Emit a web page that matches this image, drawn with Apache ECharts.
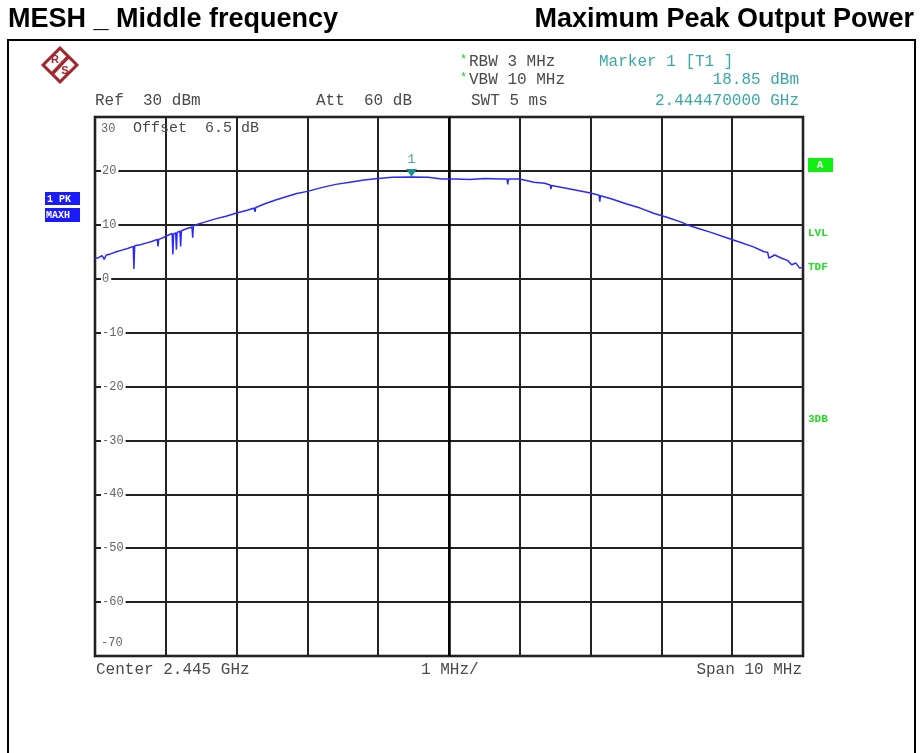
<!DOCTYPE html>
<html>
<head>
<meta charset="utf-8">
<title>MESH _ Middle frequency</title>
<script src="https://cdn.jsdelivr.net/npm/echarts@6.0.0/dist/echarts.min.js"></script>
<style>
  html, body { margin: 0; padding: 0; background: #fff; }
  #chart { width: 920px; height: 753px; }
</style>
</head>
<body>
<div id="chart"></div>
<script>
// trace (MHz, dBm)
const freqMHz = [
  2440.00, 2440.05, 2440.10, 2440.13, 2440.16, 2440.22, 2440.30, 2440.38, 2440.46, 2440.54,
  2440.55, 2440.56, 2440.64, 2440.72, 2440.80, 2440.88, 2440.89, 2440.90, 2440.96, 2441.04,
  2441.09, 2441.10, 2441.11, 2441.14, 2441.15, 2441.16, 2441.20, 2441.21, 2441.22, 2441.30,
  2441.37, 2441.38, 2441.39, 2441.45, 2441.55, 2441.70, 2441.85, 2442.00, 2442.15, 2442.25,
  2442.26, 2442.27, 2442.40, 2442.55, 2442.70, 2442.85, 2443.00, 2443.20, 2443.40, 2443.60,
  2443.80, 2444.00, 2444.20, 2444.47, 2444.70, 2444.90, 2445.10, 2445.30, 2445.50, 2445.75,
  2445.82, 2445.83, 2445.84, 2446.00, 2446.20, 2446.35, 2446.43, 2446.44, 2446.45, 2446.60,
  2446.80, 2447.00, 2447.12, 2447.13, 2447.14, 2447.30, 2447.50, 2447.70, 2447.90, 2448.10,
  2448.30, 2448.38, 2448.50, 2448.70, 2448.90, 2449.10, 2449.30, 2449.45, 2449.50, 2449.52,
  2449.60, 2449.70, 2449.78, 2449.84, 2449.90, 2449.95, 2450.00
];
const levelDbm = [
  3.8, 3.9, 4.3, 3.6, 4.4, 4.6, 5.0, 5.3, 5.6, 6.0,
  1.8, 6.1, 6.3, 6.6, 6.9, 7.3, 6.0, 7.3, 7.6, 8.1,
  8.4, 4.5, 8.3, 8.5, 5.4, 8.6, 8.8, 6.0, 8.9, 9.3,
  9.6, 7.6, 9.8, 10.1, 10.5, 11.1, 11.6, 12.2, 12.7, 13.1,
  12.4, 13.2, 13.9, 14.6, 15.2, 15.8, 16.2, 16.9, 17.5, 17.9,
  18.3, 18.6, 18.8, 18.85, 18.8, 18.5, 18.5, 18.4, 18.6, 18.5,
  18.5, 17.5, 18.5, 18.5, 17.9, 17.7, 17.4, 16.6, 17.3, 16.9,
  16.4, 15.9, 15.5, 14.3, 15.4, 14.8, 13.9, 13.1, 12.1, 11.3,
  10.4, 9.9, 9.4, 8.6, 7.7, 6.8, 5.9, 5.0, 4.9, 3.8,
  4.4, 3.8, 3.4, 2.6, 2.9, 2.0, 2.1
];
const marker1 = [2444.47, 18.85];
const yTicks = [30, 20, 10, 0, -10, -20, -30, -40, -50, -60, -70];

const mono = 'Liberation Mono';
const grey = '#4a4a4a';
const teal = '#3aa8a8';

const chart = echarts.init(document.getElementById('chart'));

function txt(x, y, text, opts) {
  return {
    type: 'text', x: x, y: y, z: 20,
    style: Object.assign({
      text: text, fill: grey, font: '16px "' + mono + '"',
      textVerticalAlign: 'middle'
    }, opts || {})
  };
}

const option = {
  animation: false,
  backgroundColor: '#fff',
  grid: {
    left: 95, right: 117, top: 117, bottom: 97,
    show: true, borderColor: '#000', borderWidth: 2.5, backgroundColor: 'transparent'
  },
  xAxis: {
    type: 'value', min: 2440, max: 2450, interval: 1,
    axisLine: { show: false }, axisTick: { show: false }, axisLabel: { show: false },
    splitLine: { show: true, lineStyle: { color: '#222', width: 2 } }
  },
  yAxis: {
    type: 'value', min: -70, max: 30, interval: 10,
    axisLine: { show: false },
    axisTick: { show: false },
    axisLabel: {
      inside: true, margin: 6, color: '#666', fontFamily: mono, fontSize: 12,
      backgroundColor: '#fff', padding: [0, 2, 0, 1],
      showMinLabel: false, showMaxLabel: false
    },
    splitLine: { show: true, lineStyle: { color: '#222', width: 2 } },
    z: 5
  },
  series: [{
    type: 'line',
    data: freqMHz.map((f, i) => [f, levelDbm[i]]),
    showSymbol: false,
    lineStyle: { color: '#2a2aff', width: 1.5 },
    z: 10,
    markLine: {
      silent: true, symbol: 'none', label: { show: false },
      lineStyle: { color: '#000', width: 2.5, type: 'solid' },
      data: [{ xAxis: 2445 }]
    },
    markPoint: {
      silent: true,
      symbol: 'triangle', symbolRotate: 180, symbolSize: [11, 8], symbolOffset: [0, -4],
      itemStyle: { color: '#1e8f8f' },
      label: {
        show: true, position: 'top', distance: 3, formatter: '1',
        color: teal, fontFamily: mono, fontSize: 13
      },
      data: [{ coord: marker1 }]
    }
  }],
  graphic: [
    // outer frame
    { type: 'rect', z: 1, shape: { x: 8, y: 40, width: 907, height: 740 },
      style: { fill: 'none', stroke: '#000', lineWidth: 2 } },
    // titles
    { type: 'text', x: 8, y: 20, style: { text: 'MESH _ Middle frequency', fill: '#000',
      font: 'bold 27px "Liberation Sans"', textVerticalAlign: 'middle' } },
    { type: 'text', x: 914, y: 20, style: { text: 'Maximum Peak Output Power', fill: '#000',
      font: 'bold 27px "Liberation Sans"', textAlign: 'right', textVerticalAlign: 'middle' } },
    // R&S logo
    { type: 'group', x: 60, y: 65, children: [
      { type: 'rect', rotation: Math.PI / 4, shape: { x: -12, y: -12, width: 24, height: 24 },
        style: { fill: '#fff', stroke: '#a3282e', lineWidth: 3 } },
      { type: 'line', shape: { x1: 9, y1: -9, x2: -8, y2: 9 },
        style: { stroke: '#a3282e', lineWidth: 3.5 } },
      { type: 'text', x: -5, y: -5, style: { text: 'R', fill: '#a3282e',
        font: 'bold 11px "Liberation Sans"', textAlign: 'center', textVerticalAlign: 'middle' } },
      { type: 'text', x: 5, y: 6, style: { text: 'S', fill: '#a3282e',
        font: 'bold 11px "Liberation Sans"', textAlign: 'center', textVerticalAlign: 'middle' } }
    ] },
    // header settings
    txt(460, 60, '*', { fill: '#22cc22', font: '12px "' + mono + '"' }),
    txt(469, 62, 'RBW 3 MHz'),
    txt(460, 78, '*', { fill: '#22cc22', font: '12px "' + mono + '"' }),
    txt(469, 80, 'VBW 10 MHz'),
    txt(599, 62, 'Marker 1 [T1 ]', { fill: teal }),
    txt(799, 80, '18.85 dBm', { fill: teal, textAlign: 'right' }),
    txt(95, 101, 'Ref  30 dBm'),
    txt(316, 101, 'Att  60 dB'),
    txt(471, 101, 'SWT 5 ms'),
    txt(799, 101, '2.444470000 GHz', { fill: teal, textAlign: 'right' }),
    // top / bottom scale labels
    txt(101, 129, String(yTicks[0]), { font: '12px "' + mono + '"', fill: '#666' }),
    txt(133, 128, 'Offset  6.5 dB', { font: '15px "' + mono + '"' }),
    txt(101, 643, String(yTicks[yTicks.length - 1]), { font: '12px "' + mono + '"', fill: '#666' }),
    // footer
    txt(96, 670, 'Center 2.445 GHz'),
    txt(421, 670, '1 MHz/'),
    txt(802, 670, 'Span 10 MHz', { textAlign: 'right' }),
    // trace info boxes, left
    { type: 'rect', shape: { x: 45, y: 192, width: 35, height: 13 }, style: { fill: '#1a1aff' } },
    txt(47, 199, '1 PK', { fill: '#fff', font: 'bold 10px "' + mono + '"' }),
    { type: 'rect', shape: { x: 45, y: 208, width: 35, height: 14 }, style: { fill: '#1a1aff' } },
    txt(46, 215, 'MAXH', { fill: '#fff', font: 'bold 10px "' + mono + '"' }),
    // status flags, right
    { type: 'rect', shape: { x: 808, y: 158, width: 25, height: 14 }, style: { fill: '#11ee11' } },
    txt(820, 165, 'A', { fill: '#fff', font: 'bold 11px "' + mono + '"', textAlign: 'center' }),
    txt(808, 233, 'LVL', { fill: '#22dd22', font: 'bold 11px "' + mono + '"' }),
    txt(808, 267, 'TDF', { fill: '#22dd22', font: 'bold 11px "' + mono + '"' }),
    txt(808, 419, '3DB', { fill: '#22dd22', font: 'bold 11px "' + mono + '"' })
  ]
};

chart.setOption(option);
</script>
</body>
</html>
